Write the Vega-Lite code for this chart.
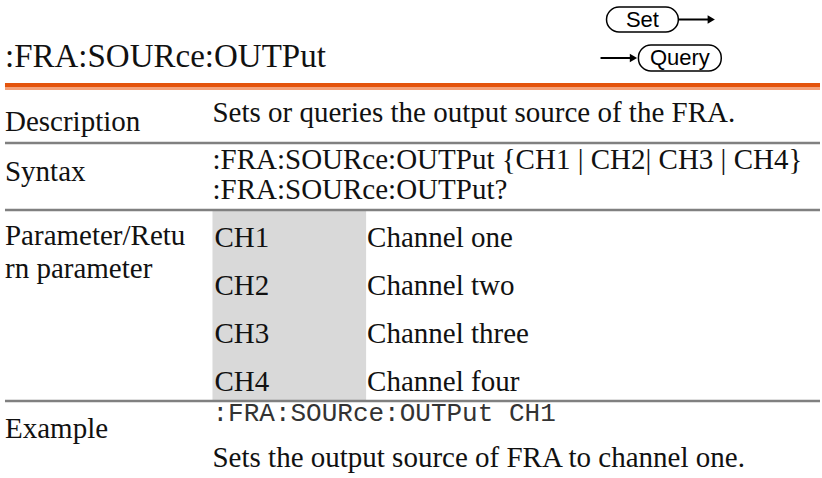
{
  "$schema": "https://vega.github.io/schema/vega-lite/v6.json",
  "width": 822,
  "height": 478,
  "autosize": {"type": "fit", "contains": "padding"},
  "padding": 0,
  "background": "white",
  "config": {"view": {"stroke": null}},
  "datasets": {
    "band": [{"x": 213, "x2": 367, "y": 211, "y2": 400}],
    "orange": [{"x": 5, "x2": 822, "y": 85}],
    "orangeLight": [{"x": 5, "x2": 822, "y": 88.5}],
    "grayLines": [
      {"x": 5, "x2": 822, "y": 143},
      {"x": 5, "x2": 822, "y": 210},
      {"x": 5, "x2": 822, "y": 401}
    ],
    "pills": [
      {"label": "Set", "x": 608, "x2": 680, "y": 7, "y2": 32},
      {"label": "Query", "x": 640, "x2": 723, "y": 45, "y2": 71}
    ],
    "arrows": [
      {"x": 680, "x2": 712, "y": 19.5},
      {"x": 602, "x2": 634, "y": 58}
    ],
    "heads": [
      {"x": 713, "y": 19.5},
      {"x": 635, "y": 58}
    ],
    "pillText": [
      {"text": "Set", "x": 644, "y": 27},
      {"text": "Query", "x": 681.5, "y": 65}
    ],
    "title": [{"text": ":FRA:SOURce:OUTPut", "x": 5, "y": 67}],
    "body": [
      {"text": "Description", "x": 5, "y": 131},
      {"text": "Sets or queries the output source of the FRA.", "x": 213, "y": 122},
      {"text": "Syntax", "x": 5, "y": 181},
      {"text": ":FRA:SOURce:OUTPut {CH1 | CH2| CH3 | CH4}", "x": 213, "y": 169},
      {"text": ":FRA:SOURce:OUTPut?", "x": 213, "y": 199},
      {"text": "Parameter/Retu", "x": 5, "y": 245},
      {"text": "rn parameter", "x": 5, "y": 278},
      {"text": "CH1", "x": 215, "y": 247},
      {"text": "Channel one", "x": 368, "y": 247},
      {"text": "CH2", "x": 215, "y": 295},
      {"text": "Channel two", "x": 368, "y": 295},
      {"text": "CH3", "x": 215, "y": 343},
      {"text": "Channel three", "x": 368, "y": 343},
      {"text": "CH4", "x": 215, "y": 391},
      {"text": "Channel four", "x": 368, "y": 391},
      {"text": "Example", "x": 5, "y": 438},
      {"text": "Sets the output source of FRA to channel one.", "x": 213, "y": 467}
    ],
    "mono": [{"text": ":FRA:SOURce:OUTPut CH1", "x": 213, "y": 421}]
  },
  "encoding": {
    "x": {"field": "x", "type": "quantitative", "scale": {"domain": [0, 822], "nice": false, "zero": false}, "axis": null},
    "y": {"field": "y", "type": "quantitative", "scale": {"domain": [478, 0], "nice": false, "zero": false}, "axis": null}
  },
  "layer": [
    {
      "data": {"name": "band"},
      "mark": {"type": "rect", "color": "#d9d9d9"},
      "encoding": {"x2": {"field": "x2"}, "y2": {"field": "y2"}}
    },
    {
      "data": {"name": "orangeLight"},
      "mark": {"type": "rule", "color": "#f4a27a", "strokeWidth": 3},
      "encoding": {"x2": {"field": "x2"}}
    },
    {
      "data": {"name": "orange"},
      "mark": {"type": "rule", "color": "#e4540c", "strokeWidth": 4},
      "encoding": {"x2": {"field": "x2"}}
    },
    {
      "data": {"name": "grayLines"},
      "mark": {"type": "rule", "color": "#808080", "strokeWidth": 2.5},
      "encoding": {"x2": {"field": "x2"}}
    },
    {
      "data": {"name": "arrows"},
      "mark": {"type": "rule", "color": "black", "strokeWidth": 1.8},
      "encoding": {"x2": {"field": "x2"}}
    },
    {
      "data": {"name": "heads"},
      "mark": {"type": "point", "shape": "triangle-right", "filled": true, "color": "black", "size": 70, "opacity": 1},
      "encoding": {}
    },
    {
      "data": {"name": "pills"},
      "mark": {"type": "rect", "fill": "white", "stroke": "black", "strokeWidth": 1.5, "cornerRadius": 12.5},
      "encoding": {"x2": {"field": "x2"}, "y2": {"field": "y2"}}
    },
    {
      "data": {"name": "pillText"},
      "mark": {"type": "text", "font": "Liberation Sans, Arial, sans-serif", "fontSize": 22, "align": "center", "baseline": "alphabetic", "color": "black"},
      "encoding": {"text": {"field": "text"}}
    },
    {
      "data": {"name": "title"},
      "mark": {"type": "text", "font": "Liberation Serif, serif", "fontSize": 33, "align": "left", "baseline": "alphabetic", "color": "#111111"},
      "encoding": {"text": {"field": "text"}}
    },
    {
      "data": {"name": "body"},
      "mark": {"type": "text", "font": "Liberation Serif, serif", "fontSize": 29, "align": "left", "baseline": "alphabetic", "color": "#111111"},
      "encoding": {"text": {"field": "text"}}
    },
    {
      "data": {"name": "mono"},
      "mark": {"type": "text", "font": "Liberation Mono, monospace", "fontSize": 26, "align": "left", "baseline": "alphabetic", "color": "#333333"},
      "encoding": {"text": {"field": "text"}}
    }
  ]
}
